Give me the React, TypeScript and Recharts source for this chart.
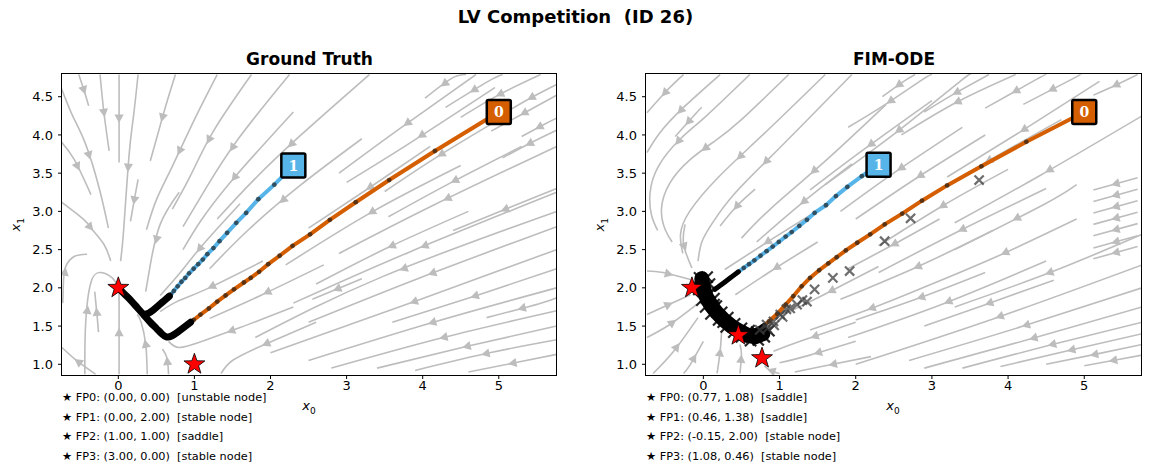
import React from "react";
import { ComposedChart, Scatter, XAxis, YAxis } from "recharts";

type Pt = [number, number];

// axes
const xTicks = [0, 1, 2, 3, 4, 5];
const yTicks = [1.0, 1.5, 2.0, 2.5, 3.0, 3.5, 4.0, 4.5];
const gtXDomain: [number, number] = [-0.74, 5.765];
const fimXDomain: [number, number] = [-0.753, 5.758];
const yDomain: [number, number] = [0.86, 4.797];

// streamlines, in flow order
const gtStreams: Pt[][] = [
  [[-0.52, 4.79], [-0.45, 4.58], [-0.39, 4.38]],
  [[-0.24, 4.79], [-0.19, 4.3], [-0.12, 3.79]],
  [[0.01, 4.79], [0.01, 4.2], [0.01, 3.64]],
  [[0.26, 4.79], [0.2, 4.25], [0.14, 3.72], [0.07, 2.76], [0.03, 2.35]],
  [[0.75, 4.79], [0.6, 4.3], [0.42, 3.66]],
  [[1.3, 4.79], [1.0, 4.2], [0.71, 3.59], [0.5, 3.15], [0.37, 2.76]],
  [[-0.76, 4.64], [-0.6, 4.25], [-0.43, 3.88], [-0.25, 3.3], [-0.13, 2.78]],
  [[-0.76, 3.92], [-0.58, 3.68], [-0.36, 3.22]],
  [[-0.76, 3.13], [-0.45, 2.89], [-0.34, 2.76], [-0.19, 2.57], [-0.1, 2.35]],
  [[0.26, 3.42], [0.21, 3.15], [0.16, 2.87]],
  [[1.75, 4.79], [1.25, 4.05], [0.95, 3.47], [0.71, 3.03]],
  [[2.25, 4.79], [1.57, 3.94], [1.15, 3.3], [0.85, 2.8]],
  [[2.3, 4.3], [1.54, 3.46], [1.1, 2.9], [0.85, 2.5]],
  [[3.3, 4.79], [2.39, 3.99], [1.75, 3.38], [1.3, 2.9]],
  [[3.2, 3.95], [2.39, 3.34], [1.7, 2.75], [1.2, 2.25]],
  [[4.1, 3.85], [3.27, 3.29], [2.5, 2.78]],
  [[4.7, 4.79], [3.68, 4.07], [2.9, 3.5]],
  [[4.95, 4.62], [3.81, 3.88], [3.0, 3.38]],
  [[5.0, 4.2], [4.2, 3.72], [3.5, 3.26]],
  [[4.57, 4.79], [4.38, 4.74], [4.03, 4.48]],
  [[5.05, 4.79], [4.86, 4.7], [4.3, 4.36]],
  [[5.55, 4.79], [5.01, 4.53], [4.5, 4.23]],
  [[5.76, 4.66], [5.43, 4.49], [5.1, 4.3]],
  [[5.76, 4.52], [5.43, 4.34], [4.9, 4.05]],
  [[5.76, 4.22], [5.6, 4.14], [5.3, 3.98]],
  [[5.76, 4.06], [5.43, 3.9], [5.05, 3.7]],
  [[5.3, 3.85], [4.36, 3.37], [3.55, 2.93]],
  [[5.76, 3.85], [4.14, 3.08], [2.9, 2.45]],
  [[4.5, 3.6], [3.33, 2.99], [2.2, 2.3]],
  [[5.76, 3.3], [5.19, 3.07], [4.4, 2.75]],
  [[4.6, 3.0], [3.53, 2.52], [2.6, 2.05]],
  [[5.76, 3.25], [3.83, 2.47], [2.3, 1.8]],
  [[3.2, 2.12], [2.89, 1.99], [2.55, 1.85]],
  [[5.76, 3.0], [3.48, 2.15], [1.8, 1.35]],
  [[5.76, 2.8], [3.96, 2.13], [2.5, 1.55]],
  [[5.76, 2.25], [4.71, 1.9], [3.6, 1.55]],
  [[5.76, 2.5], [3.92, 1.83], [2.0, 1.15]],
  [[5.76, 1.87], [5.52, 1.79], [4.84, 1.61]],
  [[5.76, 2.0], [4.14, 1.55], [2.5, 1.05]],
  [[5.76, 1.7], [4.27, 1.35], [2.8, 0.95]],
  [[5.76, 1.5], [4.6, 1.24], [3.4, 0.95]],
  [[5.76, 1.32], [4.88, 1.15], [3.9, 0.92]],
  [[5.76, 1.13], [5.21, 1.02], [4.6, 0.9]],
  [[1.9, 2.35], [1.15, 1.98], [0.77, 1.82], [0.55, 1.69]],
  [[2.7, 2.3], [1.89, 1.91], [1.2, 1.6]],
  [[2.3, 1.75], [1.6, 1.48], [1.1, 1.3], [0.8, 1.22], [0.66, 1.3]],
  [[2.6, 1.55], [1.9, 1.25], [1.5, 1.05], [1.35, 0.88]],
  [[-0.44, 0.87], [-0.43, 1.52], [-0.36, 2.07], [-0.23, 2.2], [-0.08, 2.13], [-0.01, 2.02]],
  [[-0.26, 1.42], [-0.28, 1.65], [-0.31, 1.95]],
  [[0.01, 0.87], [0.01, 1.4], [0.01, 1.97]],
  [[0.38, 0.87], [0.36, 1.26], [0.3, 1.55], [0.25, 1.65]],
  [[0.66, 0.87], [0.64, 1.08], [0.58, 1.2]],
  [[-0.73, 1.8], [-0.72, 2.1], [-0.69, 2.28], [-0.58, 2.41], [-0.41, 2.44]],
  [[1.6, 3.1], [1.1, 2.55], [0.79, 2.17], [0.55, 1.9]],
  [[0.8, 3.25], [0.55, 2.83], [0.42, 2.3], [0.36, 1.95]],
  [[-0.3, 0.87], [-0.55, 1.05], [-0.74, 1.22]],
];

const fimStreams: Pt[][] = [
  [[-0.26, 4.79], [-0.46, 4.6], [-0.74, 4.29]],
  [[0.22, 4.79], [-0.26, 4.36], [-0.57, 4.03], [-0.74, 3.77]],
  [[-0.02, 4.36], [-0.09, 4.29], [-0.37, 3.98]],
  [[0.61, 4.79], [0.04, 4.25], [-0.31, 3.94], [-0.59, 3.59], [-0.7, 3.24], [-0.68, 2.95], [-0.6, 2.75]],
  [[1.12, 4.79], [0.5, 4.2], [0.15, 3.92], [-0.17, 3.68], [-0.44, 3.37], [-0.55, 3.03], [-0.5, 2.76], [-0.41, 2.6]],
  [[1.6, 4.79], [0.79, 4.01], [0.2, 3.45], [-0.18, 3.0], [-0.3, 2.7], [-0.27, 2.45]],
  [[1.95, 4.79], [1.27, 4.1], [0.85, 3.68], [0.4, 3.22], [0.12, 2.85], [-0.02, 2.6], [-0.07, 2.35]],
  [[0.68, 3.29], [0.44, 3.07], [0.22, 2.81]],
  [[2.4, 4.4], [1.58, 3.64], [0.9, 3.05], [0.5, 2.65]],
  [[1.95, 3.62], [1.27, 3.09], [0.7, 2.6]],
  [[3.0, 4.45], [2.12, 3.82], [1.4, 3.28]],
  [[2.78, 4.79], [2.63, 4.7], [2.35, 4.5]],
  [[3.0, 4.79], [2.87, 4.72], [2.39, 4.4], [1.9, 4.1]],
  [[3.5, 4.79], [3.37, 4.7], [2.58, 4.07], [1.6, 3.35]],
  [[3.75, 4.79], [3.28, 4.53], [2.9, 4.3]],
  [[4.1, 4.79], [3.33, 4.43], [2.6, 4.0]],
  [[4.5, 4.79], [4.36, 4.72], [3.7, 4.35]],
  [[4.95, 4.79], [4.84, 4.73], [4.2, 4.4]],
  [[5.7, 4.79], [5.41, 4.65], [5.12, 4.52]],
  [[5.2, 4.7], [4.16, 4.04], [3.2, 3.45]],
  [[4.7, 4.2], [3.74, 3.66], [2.8, 3.1]],
  [[3.4, 4.1], [2.54, 3.53], [1.8, 3.0]],
  [[3.7, 4.0], [2.82, 3.45], [2.0, 2.9]],
  [[5.76, 4.25], [4.42, 3.47], [3.3, 2.85]],
  [[4.0, 3.55], [3.17, 3.09], [2.3, 2.55]],
  [[4.9, 3.35], [4.47, 3.09], [3.3, 2.5]],
  [[4.5, 3.3], [3.39, 2.76], [2.3, 2.2]],
  [[3.1, 2.9], [2.54, 2.59], [1.9, 2.25]],
  [[4.9, 2.9], [3.92, 2.44], [3.0, 2.05]],
  [[3.8, 2.75], [2.82, 2.28], [1.8, 1.85]],
  [[5.76, 2.7], [4.55, 2.2], [3.3, 1.75]],
  [[3.7, 2.2], [2.87, 1.88], [2.0, 1.58]],
  [[3.0, 2.05], [2.23, 1.74], [1.4, 1.45]],
  [[4.5, 2.35], [3.17, 1.8], [1.9, 1.35]],
  [[4.6, 2.1], [3.7, 1.78], [2.9, 1.5]],
  [[5.76, 2.3], [3.85, 1.61], [2.0, 1.0]],
  [[5.76, 2.0], [4.2, 1.5], [2.7, 1.05]],
  [[5.76, 1.75], [4.29, 1.33], [2.9, 0.95]],
  [[5.76, 1.55], [4.58, 1.26], [3.4, 0.95]],
  [[5.76, 1.4], [4.84, 1.19], [3.9, 0.97]],
  [[5.76, 1.26], [5.14, 1.13], [4.5, 1.0]],
  [[5.76, 1.12], [5.43, 1.06], [5.0, 0.98]],
  [[5.7, 3.44], [5.12, 3.28]],
  [[5.7, 3.29], [5.12, 3.13]],
  [[5.7, 3.14], [5.12, 2.98]],
  [[5.7, 2.99], [5.12, 2.83]],
  [[5.7, 2.84], [5.12, 2.68]],
  [[5.7, 2.68], [5.12, 2.52]],
  [[5.7, 2.54], [5.12, 2.38]],
  [[2.3, 2.28], [1.58, 1.91], [1.05, 1.65]],
  [[1.4, 2.95], [0.92, 2.65], [0.28, 2.24]],
  [[1.5, 2.6], [0.92, 2.24], [0.42, 1.91]],
  [[2.0, 1.55], [1.27, 1.3], [0.92, 1.17]],
  [[2.0, 1.3], [1.4, 1.12], [1.0, 1.02]],
  [[2.2, 1.1], [1.6, 0.98], [1.2, 0.9]],
  [[-0.74, 2.22], [-0.53, 2.2], [-0.17, 2.11]],
  [[-0.74, 1.65], [-0.59, 1.72], [-0.17, 1.91]],
  [[-0.74, 1.35], [-0.44, 1.52], [-0.09, 1.78]],
  [[-0.66, 0.88], [-0.39, 1.17], [-0.07, 1.61]],
  [[-0.26, 0.88], [-0.17, 1.0], [0.0, 1.3]],
  [[0.18, 0.88], [0.22, 1.17], [0.24, 1.43]],
  [[0.48, 0.88], [0.5, 1.13], [0.48, 1.26]],
  [[1.0, 0.88], [0.88, 0.92], [0.8, 0.98]],
  [[-0.24, 2.83], [-0.26, 2.57], [-0.15, 2.26]],
];

// trajectories (sampled points), and the dark tail near the attractor
const gtTraj0: Pt[] = [[5.0, 4.3], [4.16, 3.79], [3.56, 3.41], [3.12, 3.12], [2.78, 2.89], [2.52, 2.7], [2.29, 2.55], [2.12, 2.42], [1.97, 2.31], [1.85, 2.21], [1.74, 2.13], [1.65, 2.07], [1.52, 1.98], [1.41, 1.9], [1.3, 1.82], [1.19, 1.73], [1.08, 1.65], [0.99, 1.58], [0.9, 1.52]];
const gtTail0: Pt[] = [[0.95, 1.55], [0.86, 1.48], [0.78, 1.42], [0.7, 1.37], [0.63, 1.36], [0.57, 1.4], [0.5, 1.47], [0.42, 1.55], [0.34, 1.64], [0.25, 1.74], [0.17, 1.83], [0.09, 1.91], [0.03, 1.97], [0.0, 2.0]];
const gtTraj1: Pt[] = [[2.3, 3.6], [2.05, 3.35], [1.84, 3.16], [1.68, 2.98], [1.55, 2.85], [1.43, 2.72], [1.33, 2.61], [1.25, 2.52], [1.17, 2.44], [1.11, 2.37], [1.05, 2.31], [0.99, 2.25], [0.93, 2.19], [0.88, 2.13], [0.83, 2.08], [0.78, 2.02], [0.73, 1.96], [0.69, 1.91], [0.65, 1.87]];
const gtTail1: Pt[] = [[0.67, 1.89], [0.6, 1.83], [0.53, 1.77], [0.46, 1.71], [0.4, 1.67], [0.34, 1.65]];

const fimTraj0: Pt[] = [[5.0, 4.3], [4.24, 3.91], [3.65, 3.59], [3.2, 3.34], [2.87, 3.14], [2.61, 2.97], [2.38, 2.83], [2.19, 2.7], [2.02, 2.59], [1.87, 2.49], [1.75, 2.4], [1.64, 2.32], [1.52, 2.23], [1.4, 2.13], [1.29, 2.02], [1.18, 1.89], [1.08, 1.78], [0.97, 1.66], [0.86, 1.56], [0.78, 1.5]];
const fimTail0: Pt[] = [[0.8, 1.51], [0.72, 1.46], [0.64, 1.43]];
const fimTraj1: Pt[] = [[2.3, 3.61], [2.08, 3.46], [1.89, 3.32], [1.74, 3.2], [1.61, 3.08], [1.46, 2.98], [1.36, 2.89], [1.26, 2.81], [1.16, 2.73], [1.08, 2.67], [0.99, 2.6], [0.91, 2.54], [0.83, 2.48], [0.75, 2.42], [0.67, 2.36], [0.6, 2.31], [0.53, 2.26], [0.46, 2.21]];
const fimTail1: Pt[] = [[0.46, 2.21], [0.38, 2.15], [0.3, 2.09], [0.22, 2.03], [0.15, 1.98]];

// model rollout markers (x) and the dense cluster near the attractor
const fimCrosses: Pt[] = [[3.62, 3.41], [2.72, 2.91], [2.38, 2.61], [1.92, 2.22], [1.7, 2.13], [1.46, 1.98], [1.36, 1.82], [1.3, 1.84], [1.23, 1.78], [1.14, 1.73], [1.09, 1.72], [1.04, 1.62], [1.01, 1.65], [0.93, 1.51], [0.92, 1.56], [0.84, 1.47], [0.83, 1.52], [0.74, 1.45]];
const fimBlob: Pt[] = [[-0.02, 2.12], [0.0, 2.0], [0.04, 1.88], [0.1, 1.77], [0.18, 1.67], [0.28, 1.57], [0.38, 1.49], [0.48, 1.43], [0.58, 1.38], [0.68, 1.36], [0.78, 1.4]];
const fimBlobCrosses: Pt[] = [[-0.05, 2.13], [0.05, 2.14], [0.08, 2.05], [-0.06, 1.98], [0.09, 1.93], [-0.02, 1.84], [0.14, 1.86], [0.03, 1.75], [0.17, 1.76], [0.1, 1.66], [0.24, 1.68], [0.2, 1.58], [0.32, 1.61], [0.3, 1.49], [0.41, 1.53], [0.4, 1.42], [0.5, 1.47], [0.5, 1.36], [0.6, 1.44], [0.62, 1.31], [0.7, 1.42], [0.72, 1.32], [0.8, 1.36], [0.86, 1.44], [0.14, 1.78], [0.26, 1.55], [0.66, 1.39]];

// fixed points visible in the window
const gtStars: Pt[] = [[0.0, 2.0], [1.0, 1.0]];
const fimStars: Pt[] = [[-0.15, 2.0], [0.46, 1.38], [0.77, 1.08]];

const gtFpText = ["FP0: (0.00, 0.00)  [unstable node]", "FP1: (0.00, 2.00)  [stable node]", "FP2: (1.00, 1.00)  [saddle]", "FP3: (3.00, 0.00)  [stable node]"];
const fimFpText = ["FP0: (0.77, 1.08)  [saddle]", "FP1: (0.46, 1.38)  [saddle]", "FP2: (-0.15, 2.00)  [stable node]", "FP3: (1.08, 0.46)  [stable node]"];

const trajIds = ["0", "1"];
const ORANGE = "#D55E00";
const BLUE = "#56B4E9";
const STREAM = "#bdbdbd";
const FONT = "'DejaVu Sans', sans-serif";

const rows = (pts: Pt[]) => pts.map(([x, y]) => ({ x, y }));

// arrow at the middle (arc length) of each streamline, like streamplot
function arrowRows(lines: Pt[][]) {
  return lines.map((pts) => {
    let total = 0;
    for (let i = 1; i < pts.length; i++) total += Math.hypot(pts[i][0] - pts[i - 1][0], pts[i][1] - pts[i - 1][1]);
    let half = total / 2;
    for (let i = 1; i < pts.length; i++) {
      const dx = pts[i][0] - pts[i - 1][0];
      const dy = pts[i][1] - pts[i - 1][1];
      const len = Math.hypot(dx, dy);
      if (half <= len || i === pts.length - 1) {
        const t = len ? Math.min(half / len, 1) : 0;
        return { x: pts[i - 1][0] + dx * t, y: pts[i - 1][1] + dy * t, angle: (Math.atan2(-dy, dx) * 180) / Math.PI };
      }
      half -= len;
    }
    return { x: pts[0][0], y: pts[0][1], angle: 0 };
  });
}

const Empty = () => <g />;

const ArrowHead = (p: any) => {
  if (p.cx == null) return <g />;
  return <polygon points="4.5,0 -4,-4.6 -4,4.6" transform={`translate(${p.cx},${p.cy}) rotate(${p.payload.angle})`} fill={STREAM} />;
};

const Dot = (p: any) => <circle cx={p.cx} cy={p.cy} r={2.4} fill="#1a1a1a" fillOpacity={0.65} />;

const starPts = Array.from({ length: 10 }, (_, i) => {
  const a = -Math.PI / 2 + (i * Math.PI) / 5;
  const r = i % 2 ? 4.4 : 11;
  return `${(r * Math.cos(a)).toFixed(2)},${(r * Math.sin(a)).toFixed(2)}`;
}).join(" ");

const Star = (p: any) => <polygon points={starPts} transform={`translate(${p.cx},${p.cy})`} fill="#ff0000" stroke="#000" strokeWidth={0.8} />;

const makeCross = (color: string, opacity: number, s: number) => (p: any) => (
  <path d={`M${p.cx - s},${p.cy - s}L${p.cx + s},${p.cy + s}M${p.cx - s},${p.cy + s}L${p.cx + s},${p.cy - s}`} stroke={color} strokeOpacity={opacity} strokeWidth={2.2} />
);
const GreyCross = makeCross("#3c3c3c", 0.75, 4.6);
const DarkCross = makeCross("#000", 0.85, 5.6);

const makeBox = (color: string, label: string) => (p: any) => (
  <g transform={`translate(${p.cx},${p.cy})`}>
    <rect x={-12} y={-12} width={24} height={24} rx={1.5} fill={color} stroke="#000" strokeWidth={2.5} />
    <text textAnchor="middle" dy="0.36em" fill="#fff" fontWeight="bold" fontFamily="'DejaVu Serif', serif" fontSize={14}>
      {label}
    </text>
  </g>
);

interface PanelProps {
  left: number;
  width: number;
  xDomain: [number, number];
  streams: Pt[][];
  traj0: Pt[];
  tail0: Pt[];
  traj1: Pt[];
  tail1: Pt[];
  stars: Pt[];
  tailWidth: number;
  crosses?: Pt[];
  blob?: Pt[];
  blobCrosses?: Pt[];
}

function Panel({ left, width, xDomain, streams, traj0, tail0, traj1, tail1, stars, tailWidth, crosses, blob, blobCrosses }: PanelProps) {
  const tick = { fill: "#000", fontSize: 13, fontFamily: FONT };
  return (
    <div style={{ position: "absolute", left, top: 74 }}>
      <ComposedChart width={width} height={346} margin={{ top: 0, right: 0, bottom: 0, left: 0 }}>
        <XAxis type="number" dataKey="x" domain={xDomain} ticks={xTicks} allowDataOverflow height={45} tickSize={4} tickMargin={2} tick={tick} axisLine={false} tickLine={{ stroke: "#000" }} />
        <YAxis type="number" dataKey="y" domain={yDomain} ticks={yTicks} allowDataOverflow width={62} tickSize={4} tickMargin={5} tick={tick} axisLine={false} tickLine={{ stroke: "#000" }} tickFormatter={(v: number) => v.toFixed(1)} />
        {streams.map((s, i) => (
          <Scatter key={`s${i}`} data={rows(s)} fill={STREAM} line={{ stroke: STREAM, strokeWidth: 1.6, fill: "none" }} lineJointType="natural" shape={Empty} isAnimationActive={false} />
        ))}
        <Scatter data={arrowRows(streams)} shape={ArrowHead} isAnimationActive={false} />
        <Scatter data={rows(traj1)} fill={BLUE} line={{ stroke: BLUE, strokeWidth: 4, strokeLinecap: "round" }} shape={Empty} isAnimationActive={false} />
        <Scatter data={rows(traj0)} fill={ORANGE} line={{ stroke: ORANGE, strokeWidth: 4, strokeLinecap: "round" }} shape={Empty} isAnimationActive={false} />
        <Scatter data={rows(traj1.slice(1))} shape={Dot} isAnimationActive={false} />
        <Scatter data={rows(traj0.slice(1))} shape={Dot} isAnimationActive={false} />
        {blob && (
          <Scatter data={rows(blob)} fill="#000" line={{ stroke: "#000", strokeWidth: 15, strokeLinecap: "round", strokeLinejoin: "round" }} shape={Empty} isAnimationActive={false} />
        )}
        <Scatter data={rows(tail1)} fill="#000" line={{ stroke: "#000", strokeWidth: tailWidth, strokeLinecap: "round", strokeLinejoin: "round" }} lineJointType="natural" shape={Empty} isAnimationActive={false} />
        <Scatter data={rows(tail0)} fill="#000" line={{ stroke: "#000", strokeWidth: tailWidth, strokeLinecap: "round", strokeLinejoin: "round" }} lineJointType="natural" shape={Empty} isAnimationActive={false} />
        {blobCrosses && <Scatter data={rows(blobCrosses)} shape={DarkCross} isAnimationActive={false} />}
        {crosses && <Scatter data={rows(crosses)} shape={GreyCross} isAnimationActive={false} />}
        <Scatter data={rows(stars)} shape={Star} isAnimationActive={false} />
        <Scatter data={rows([traj1[0]])} shape={makeBox(BLUE, trajIds[1])} isAnimationActive={false} />
        <Scatter data={rows([traj0[0]])} shape={makeBox(ORANGE, trajIds[0])} isAnimationActive={false} />
      </ComposedChart>
      <div style={{ position: "absolute", left: 61, top: -1, width: width - 61, height: 303, border: "1px solid #000", boxSizing: "border-box", pointerEvents: "none" }} />
    </div>
  );
}

function AxisLabels({ cx, yx }: { cx: number; yx: number }) {
  return (
    <>
      <div style={{ position: "absolute", left: cx - 10, top: 398, width: 20, textAlign: "center", fontFamily: FONT, fontSize: 13 }}>
        <i>x</i>
        <sub style={{ fontSize: 9 }}>0</sub>
      </div>
      <div style={{ position: "absolute", left: yx - 15, top: 216, width: 30, textAlign: "center", fontFamily: FONT, fontSize: 13, transform: "rotate(-90deg)" }}>
        <i>x</i>
        <sub style={{ fontSize: 9 }}>1</sub>
      </div>
    </>
  );
}

function FpList({ left, lines }: { left: number; lines: string[] }) {
  return (
    <div style={{ position: "absolute", left, top: 388, fontFamily: FONT, fontSize: 11.3, lineHeight: "19.5px", whiteSpace: "pre", color: "#000" }}>
      {lines.map((t) => (
        <div key={t}>{"\u2605 " + t}</div>
      ))}
    </div>
  );
}

export default function App() {
  return (
    <div style={{ position: "absolute", left: 0, top: 0, width: 1151, height: 473, background: "#fff", fontFamily: FONT }}>
      <div style={{ position: "absolute", left: 0, width: 1151, top: 6, textAlign: "center", fontSize: 18, fontWeight: "bold", whiteSpace: "pre" }}>LV Competition  (ID 26)</div>
      <div style={{ position: "absolute", left: 62, width: 495, top: 49, textAlign: "center", fontSize: 17, fontWeight: "bold" }}>Ground Truth</div>
      <div style={{ position: "absolute", left: 646, width: 496, top: 49, textAlign: "center", fontSize: 17, fontWeight: "bold" }}>FIM-ODE</div>
      <Panel left={0} width={557} xDomain={gtXDomain} streams={gtStreams} traj0={gtTraj0} tail0={gtTail0} traj1={gtTraj1} tail1={gtTail1} stars={gtStars} tailWidth={7} />
      <Panel left={584} width={558} xDomain={fimXDomain} streams={fimStreams} traj0={fimTraj0} tail0={fimTail0} traj1={fimTraj1} tail1={fimTail1} stars={fimStars} tailWidth={5} crosses={fimCrosses} blob={fimBlob} blobCrosses={fimBlobCrosses} />
      <AxisLabels cx={309} yx={17} />
      <AxisLabels cx={893} yx={601} />
      <FpList left={62} lines={gtFpText} />
      <FpList left={646} lines={fimFpText} />
    </div>
  );
}
